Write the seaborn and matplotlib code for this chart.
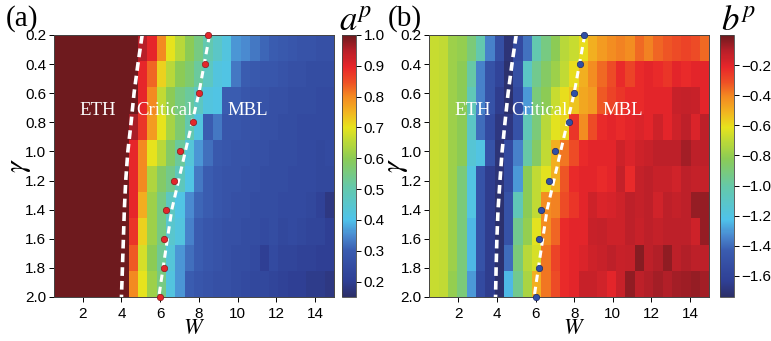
import numpy as np
import pandas as pd
import seaborn as sns
import matplotlib
matplotlib.use("Agg")
import matplotlib.pyplot as plt
from matplotlib import font_manager
from matplotlib.colors import LinearSegmentedColormap

plt.rcParams["mathtext.fontset"] = "stix"

# narrow sans face for tick labels, first one that is installed
_installed = {f.name for f in font_manager.fontManager.ttflist}
TICK_FAMILY = next((f for f in ["Liberation Sans Narrow", "DejaVu Sans Condensed", "Liberation Sans"]
                    if f in _installed), "DejaVu Sans")
TICK_SIZE = 11

# ---------------- data ----------------
gamma_values = [0.2, 0.4, 0.6, 0.8, 1.0, 1.2, 1.4, 1.6, 1.8, 2.0]
W_min, W_max, n_W = 0.5, 15.0, 30          # disorder grid (cell edges span 0.5 .. 15)

a_p = [
    [1.0]*9 + [0.95, 0.90, 0.80, 0.70, 0.65, 0.60, 0.55, 0.50, 0.46, 0.42, 0.36, 0.35, 0.33, 0.31, 0.30, 0.29, 0.28, 0.27, 0.27, 0.26, 0.26],
    [1.0]*9 + [0.90, 0.83, 0.72, 0.65, 0.60, 0.57, 0.52, 0.47, 0.42, 0.41, 0.33, 0.30, 0.29, 0.28, 0.28, 0.27, 0.26, 0.26, 0.25, 0.25, 0.25],
    [1.0]*9 + [0.90, 0.80, 0.66, 0.60, 0.55, 0.52, 0.47, 0.42, 0.41, 0.30, 0.30, 0.28, 0.27, 0.27, 0.26, 0.26, 0.25, 0.25, 0.25, 0.24, 0.24],
    [1.0]*8 + [0.96, 0.88, 0.78, 0.70, 0.63, 0.57, 0.50, 0.42, 0.30, 0.33, 0.28, 0.28, 0.27, 0.27, 0.26, 0.26, 0.25, 0.25, 0.24, 0.24, 0.24, 0.24],
    [1.0]*8 + [0.90, 0.80, 0.70, 0.65, 0.58, 0.52, 0.43, 0.36, 0.32, 0.29, 0.28, 0.27, 0.27, 0.26, 0.26, 0.25, 0.25, 0.25, 0.24, 0.24, 0.23, 0.24],
    [1.0]*8 + [0.90, 0.80, 0.64, 0.58, 0.54, 0.48, 0.41, 0.33, 0.30, 0.28, 0.27, 0.27, 0.26, 0.26, 0.25, 0.25, 0.25, 0.24, 0.24, 0.24, 0.23, 0.23],
    [1.0]*8 + [0.90, 0.76, 0.62, 0.55, 0.47, 0.41, 0.35, 0.31, 0.30, 0.28, 0.27, 0.26, 0.26, 0.25, 0.25, 0.25, 0.24, 0.24, 0.24, 0.23, 0.21, 0.18],
    [1.0]*8 + [0.88, 0.72, 0.62, 0.55, 0.45, 0.42, 0.34, 0.30, 0.28, 0.27, 0.26, 0.26, 0.25, 0.25, 0.24, 0.25, 0.23, 0.24, 0.23, 0.22, 0.22, 0.20],
    [1.0]*8 + [0.84, 0.68, 0.60, 0.53, 0.43, 0.36, 0.32, 0.30, 0.28, 0.27, 0.26, 0.25, 0.25, 0.24, 0.20, 0.24, 0.22, 0.22, 0.21, 0.21, 0.20, 0.20],
    [1.0]*8 + [0.80, 0.70, 0.62, 0.55, 0.42, 0.36, 0.30, 0.28, 0.27, 0.26, 0.26, 0.25, 0.24, 0.23, 0.23, 0.22, 0.21, 0.20, 0.20, 0.19, 0.19, 0.18],
]

b_p = [
    [-0.68, -0.70, -0.78, -0.80, -0.90, -1.02, -1.35, -1.52, -1.70, -1.55, -1.38, -1.02, -0.92, -0.82, -0.72, -0.68, -0.60, -0.50, -0.45, -0.42, -0.40, -0.42, -0.36, -0.40, -0.35, -0.32, -0.30, -0.28, -0.30, -0.36],
    [-0.68, -0.70, -0.78, -0.82, -1.00, -1.35, -1.50, -1.60, -1.72, -1.52, -1.10, -0.95, -0.85, -0.78, -0.70, -0.60, -0.50, -0.42, -0.36, -0.30, -0.22, -0.28, -0.22, -0.20, -0.22, -0.25, -0.20, -0.22, -0.20, -0.20],
    [-0.68, -0.70, -0.78, -0.82, -1.05, -1.35, -1.50, -1.65, -1.72, -1.55, -1.30, -0.90, -0.82, -0.68, -0.60, -0.55, -0.48, -0.45, -0.33, -0.28, -0.25, -0.22, -0.22, -0.20, -0.20, -0.20, -0.14, -0.13, -0.14, -0.20],
    [-0.68, -0.70, -0.78, -0.82, -1.10, -1.40, -1.55, -1.68, -1.68, -1.50, -1.05, -0.90, -0.72, -0.62, -0.58, -0.25, -0.42, -0.30, -0.22, -0.20, -0.22, -0.20, -0.18, -0.20, -0.15, -0.20, -0.15, -0.12, -0.18, -0.12],
    [-0.68, -0.70, -0.78, -0.82, -1.15, -1.20, -1.50, -1.70, -1.55, -1.35, -1.00, -0.85, -0.70, -0.50, -0.38, -0.30, -0.22, -0.20, -0.20, -0.20, -0.15, -0.18, -0.15, -0.14, -0.12, -0.12, -0.12, -0.08, -0.12, -0.12],
    [-0.68, -0.70, -0.78, -0.90, -1.20, -1.50, -1.65, -1.70, -1.55, -1.30, -0.82, -0.70, -0.62, -0.50, -0.32, -0.22, -0.20, -0.20, -0.22, -0.20, -0.13, -0.22, -0.13, -0.12, -0.14, -0.14, -0.16, -0.12, -0.13, -0.13],
    [-0.68, -0.70, -0.78, -0.90, -1.20, -1.50, -1.65, -1.72, -1.50, -1.05, -0.82, -0.70, -0.42, -0.40, -0.30, -0.25, -0.20, -0.15, -0.18, -0.17, -0.15, -0.12, -0.13, -0.12, -0.16, -0.12, -0.13, -0.12, -0.06, -0.06],
    [-0.68, -0.70, -0.78, -0.90, -1.25, -1.50, -1.65, -1.72, -1.50, -0.95, -0.80, -0.62, -0.42, -0.35, -0.22, -0.20, -0.20, -0.14, -0.13, -0.15, -0.15, -0.12, -0.14, -0.12, -0.13, -0.12, -0.12, -0.12, -0.15, -0.06],
    [-0.68, -0.70, -0.78, -0.90, -1.25, -1.50, -1.65, -1.72, -1.40, -0.90, -0.72, -0.65, -0.38, -0.28, -0.22, -0.20, -0.18, -0.15, -0.14, -0.12, -0.14, -0.13, -0.04, -0.12, -0.10, -0.05, -0.12, -0.10, -0.12, -0.12],
    [-0.68, -0.70, -0.80, -0.90, -1.30, -1.55, -1.65, -1.72, -1.25, -0.95, -0.75, -0.50, -0.38, -0.30, -0.22, -0.20, -0.14, -0.14, -0.16, -0.20, -0.14, -0.05, -0.12, -0.10, -0.08, -0.10, -0.08, -0.07, -0.06, -0.08],
]

# transition points and phase boundaries, (W, gamma)
dot_W = [8.49, 8.32, 8.00, 7.72, 7.00, 6.70, 6.30, 6.19, 6.19, 6.00]
dot_gamma = [0.2, 0.4, 0.6, 0.8, 1.0, 1.2, 1.4, 1.6, 1.8, 2.0]

eth_gamma = [0.2, 0.4, 0.6, 0.8, 1.0, 1.2, 1.4, 1.6, 1.8, 2.0]
eth_W_a = [5.07, 4.85, 4.65, 4.50, 4.33, 4.22, 4.15, 4.10, 4.05, 4.00]
eth_W_b = [5.00, 4.78, 4.58, 4.42, 4.27, 4.16, 4.06, 4.00, 3.96, 3.93]

mbl_gamma = [0.2, 0.6, 1.0, 1.4, 1.8, 2.0]
mbl_W = [8.55, 8.00, 7.30, 6.60, 6.15, 5.93]

W_ticks = [2, 4, 6, 8, 10, 12, 14]
gamma_ticks = [0.2, 0.4, 0.6, 0.8, 1.0, 1.2, 1.4, 1.6, 1.8, 2.0]
a_cticks = [0.2, 0.3, 0.4, 0.5, 0.6, 0.7, 0.8, 0.9, 1.0]
b_cticks = [-1.6, -1.4, -1.2, -1.0, -0.8, -0.6, -0.4, -0.2]

# ---------------- colour map (soft jet) ----------------
cmap = LinearSegmentedColormap.from_list("softjet", [
    (0.000, "#2c2f68"),
    (0.060, "#2f3f95"),
    (0.176, "#3a5cb0"),
    (0.235, "#4a8ad0"),
    (0.294, "#4fc3ea"),
    (0.410, "#62c8b0"),
    (0.530, "#8ccb55"),
    (0.588, "#b8d83a"),
    (0.647, "#e6e31d"),
    (0.706, "#f2b520"),
    (0.765, "#f38a21"),
    (0.820, "#ee5025"),
    (0.880, "#e8262a"),
    (0.940, "#b81f29"),
    (1.000, "#6e1a1e"),
])

FIG_W, FIG_H = 771, 341


def box(left, top, right, bottom):
    return [left / FIG_W, 1 - bottom / FIG_H, (right - left) / FIG_W, (bottom - top) / FIG_H]


fig = plt.figure(figsize=(7.71, 3.41), dpi=100)

W_centers = np.round(np.linspace(W_min, W_max, n_W + 1)[:-1] + (W_max - W_min) / n_W / 2, 3)

panels = [
    dict(data=a_p, ax=box(53.7, 35, 334.4, 297), cax=box(342, 35, 356, 297),
         vmin=0.15, vmax=1.0, cticks=a_cticks, name=r"$a^p$", tag="(a)",
         eth=eth_W_a, dot="#e3262b", dot_edge="#8a1a1e",
         tag_x=6, name_x=339, ylab_x=19, wlab_x=194),
    dict(data=b_p, ax=box(429.3, 35, 709.3, 297), cax=box(720, 35, 734, 297),
         vmin=-1.74, vmax=0.0, cticks=b_cticks, name=r"$b^p$", tag="(b)",
         eth=eth_W_b, dot="#2f4fa6", dot_edge="#1d2b66",
         tag_x=388, name_x=721, ylab_x=396, wlab_x=574),
]

tick_font = dict(fontsize=TICK_SIZE, family=TICK_FAMILY)

for p in panels:
    df = pd.DataFrame(p["data"], index=gamma_values, columns=W_centers)
    ax = fig.add_axes(p["ax"])
    cax = fig.add_axes(p["cax"])
    sns.heatmap(df, ax=ax, cbar_ax=cax, cmap=cmap, vmin=p["vmin"], vmax=p["vmax"],
                xticklabels=False, yticklabels=False, linewidths=0,
                cbar_kws={"ticks": p["cticks"]})
    ax.set_xlabel("")
    ax.set_ylabel("")
    for s in ax.spines.values():
        s.set_visible(False)

    cbar = ax.collections[0].colorbar
    cbar.outline.set_linewidth(0.6)
    cbar.outline.set_edgecolor("#444444")
    cax.tick_params(length=3.5, width=0.7, pad=2)
    for lab in cax.get_yticklabels():
        lab.set_fontsize(TICK_SIZE)
        lab.set_family(TICK_FAMILY)

    # overlay in physical (W, gamma) coordinates
    ov = fig.add_axes(p["ax"], facecolor="none")
    ov.set_xlim(W_min, W_max)
    ov.set_ylim(2.0, 0.2)
    ov.set_xticks(W_ticks)
    ov.set_xticklabels([str(t) for t in W_ticks], **tick_font)
    ov.set_yticks(gamma_ticks)
    ov.set_yticklabels([f"{g:.1f}" for g in gamma_ticks], **tick_font)
    ov.tick_params(axis="y", length=3.5, width=0.7, pad=2)
    ov.tick_params(axis="x", length=3.5, width=0.7, pad=4)
    for s in ov.spines.values():
        s.set_linewidth(0.7)
        s.set_edgecolor("#444444")

    ov.plot(p["eth"], eth_gamma, color="white", lw=2.6, dashes=(2.4, 1.4),
            solid_capstyle="butt", dash_capstyle="butt")
    ov.plot(mbl_W, mbl_gamma, color="white", lw=2.2, dashes=(2.4, 1.6),
            dash_capstyle="butt")
    ov.plot(dot_W, dot_gamma, ls="none", marker="o", ms=4.6,
            mfc=p["dot"], mec=p["dot_edge"], mew=0.5, clip_on=False, zorder=5)

    for txt, wx in (("ETH", 2.75), ("Critical", 6.2), ("MBL", 10.5)):
        ov.text(wx, 0.72, txt, color="white", fontsize=13.5, family="Liberation Serif",
                ha="center", va="center")

    fig.text(p["tag_x"] / FIG_W, 1 - 26 / FIG_H, p["tag"], fontsize=21,
             family="Liberation Serif", ha="left", va="baseline")
    fig.text(p["name_x"] / FIG_W, 1 - 30 / FIG_H, p["name"], fontsize=25,
             ha="left", va="baseline")
    fig.text(p["wlab_x"] / FIG_W, 1 - 328 / FIG_H, r"$W$", fontsize=16,
             ha="center", va="center")
    fig.text(p["ylab_x"] / FIG_W, 1 - 166 / FIG_H, r"$\gamma$", fontsize=21,
             ha="center", va="center", rotation=90)

fig.savefig("out.png", dpi=100)
